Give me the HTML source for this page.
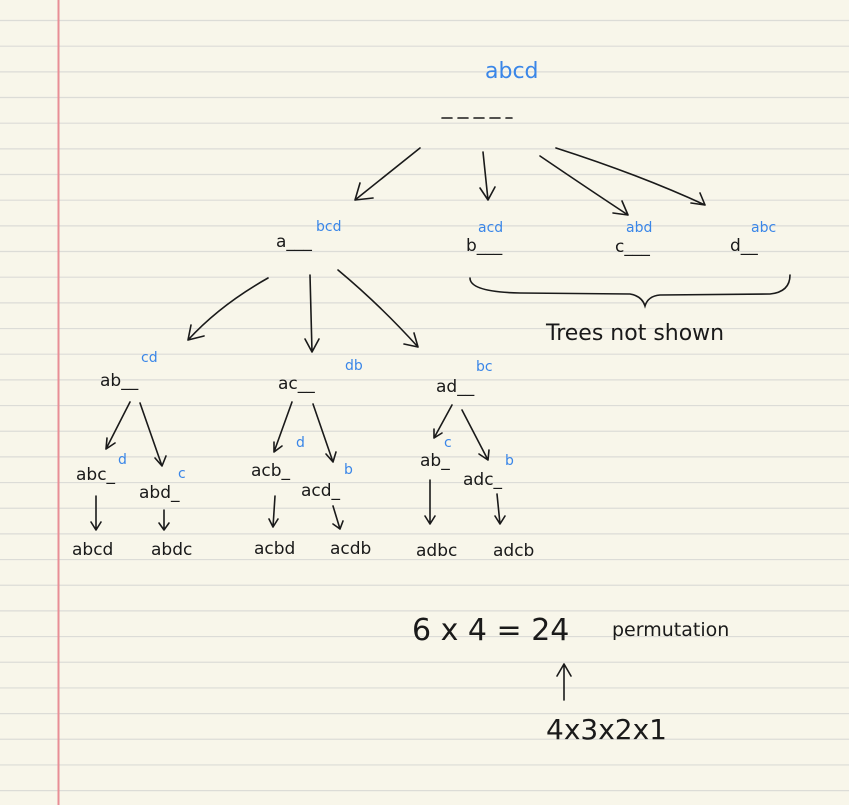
<!DOCTYPE html>
<html><head><meta charset="utf-8"><style>
html,body{margin:0;padding:0;background:#f8f6ea;}
svg{display:block}
text{font-family:"DejaVu Sans","Liberation Sans",sans-serif;}
.k{fill:#1a1a1a;font-size:17px}
.b{fill:#3a86e8;font-size:14px}
</style></head><body>
<svg width="849" height="805" viewBox="0 0 849 805" xmlns="http://www.w3.org/2000/svg">
<rect width="849" height="805" fill="#f8f6ea"/>
<g stroke="#dcdcd7" stroke-width="1.2">
<script></script>
</g>
<g id="lines" stroke="#dcdcd7" stroke-width="1.2"></g>
<line x1="58.5" y1="0" x2="58.5" y2="805" stroke="#e88e96" stroke-width="2"/>
<g fill="none" stroke="#1a1a1a" stroke-width="1.6" stroke-linecap="round">
<path d="M442 118h70" stroke-dasharray="10 6"/>
<path d="M420 148 L355 200 M355 200 l18 -2 M355 200 l5 -17"/>
<path d="M483 152 L488 200 M488 200 l-8 -12 M488 200 l7 -13"/>
<path d="M540 156 Q590 190 628 215 M628 215 l-15 -2 M628 215 l-6 -14"/>
<path d="M556 148 Q640 175 705 205 M705 205 l-14 -2 M705 205 l-5 -12"/>
<path d="M470 278 Q470 292 520 293 L630 294 Q642 296 645 306 Q648 296 660 295 L770 294 Q790 292 790 275"/>
<path d="M268 278 Q220 305 188 340 M188 340 l16 -4 M188 340 l3 -15"/>
<path d="M310 275 L312 352 M312 352 l-7 -13 M312 352 l7 -13"/>
<path d="M338 270 Q380 305 418 347 M418 347 l-4 -14 M418 347 l-14 -3"/>
<path d="M130 402 L106 449 M106 449 l1 -11 M106 449 l9 -6"/>
<path d="M140 403 L162 466 M162 466 l-7 -8 M162 466 l4 -10"/>
<path d="M292 402 L274 452 M274 452 l0 -10 M274 452 l8 -6"/>
<path d="M313 404 L333 462 M333 462 l-7 -8 M333 462 l3 -10"/>
<path d="M452 405 L434 438 M434 438 l0 -9 M434 438 l8 -5"/>
<path d="M462 410 L488 460 M488 460 l-9 -6 M488 460 l1 -10"/>
<path d="M96 496 L96 530 M96 530 l-5 -8 M96 530 l5 -8"/>
<path d="M164 510 L164 530 M164 530 l-5 -7 M164 530 l5 -7"/>
<path d="M275 496 L273 527 M273 527 l-4 -8 M273 527 l5 -8"/>
<path d="M333 506 L340 529 M340 529 l-7 -5 M340 529 l3 -8"/>
<path d="M430 480 L430 524 M430 524 l-5 -8 M430 524 l5 -8"/>
<path d="M497 494 L500 524 M500 524 l-5 -8 M500 524 l5 -8"/>
<path d="M564 700 L564 664 M564 664 l-7 12 M564 664 l7 12"/>
</g>
<text x="485" y="78" class="b" style="font-size:22px">abcd</text>
<text x="316" y="231" class="b">bcd</text>
<text x="276" y="247" class="k">a___</text>
<text x="478" y="232" class="b">acd</text>
<text x="466" y="251" class="k">b___</text>
<text x="626" y="232" class="b">abd</text>
<text x="615" y="252" class="k">c___</text>
<text x="751" y="232" class="b">abc</text>
<text x="730" y="251" class="k">d__</text>
<text x="546" y="340" class="k" style="font-size:22px">Trees not shown</text>
<text x="141" y="362" class="b">cd</text>
<text x="100" y="386" class="k">ab__</text>
<text x="345" y="370" class="b">db</text>
<text x="278" y="389" class="k">ac__</text>
<text x="476" y="371" class="b">bc</text>
<text x="436" y="392" class="k">ad__</text>
<text x="118" y="464" class="b">d</text>
<text x="76" y="480" class="k">abc_</text>
<text x="178" y="478" class="b">c</text>
<text x="139" y="498" class="k">abd_</text>
<text x="296" y="447" class="b">d</text>
<text x="251" y="476" class="k">acb_</text>
<text x="344" y="474" class="b">b</text>
<text x="301" y="496" class="k">acd_</text>
<text x="444" y="447" class="b">c</text>
<text x="420" y="466" class="k">ab_</text>
<text x="505" y="465" class="b">b</text>
<text x="463" y="485" class="k">adc_</text>
<text x="72" y="555" class="k">abcd</text>
<text x="151" y="555" class="k">abdc</text>
<text x="254" y="554" class="k">acbd</text>
<text x="330" y="554" class="k">acdb</text>
<text x="416" y="556" class="k">adbc</text>
<text x="493" y="556" class="k">adcb</text>
<text x="412" y="640" class="k" style="font-size:30px">6 x 4 = 24</text>
<text x="612" y="636" class="k" style="font-size:19px">permutation</text>
<text x="546" y="739" class="k" style="font-size:28px">4x3x2x1</text>
</svg>
<script>
var g=document.getElementById('lines');
for(var i=0;i<32;i++){var y=20.5+i*25.67;var l=document.createElementNS('http://www.w3.org/2000/svg','line');l.setAttribute('x1',0);l.setAttribute('x2',849);l.setAttribute('y1',y);l.setAttribute('y2',y);g.appendChild(l);}
</script>
</body></html>
